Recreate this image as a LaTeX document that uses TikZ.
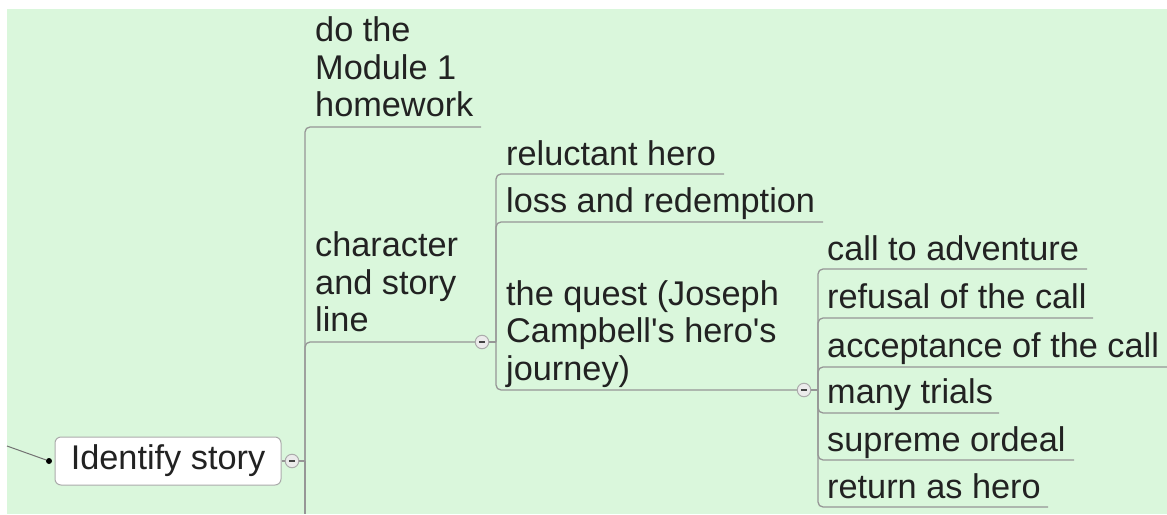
\documentclass[tikz,border=0pt]{standalone}
\usepackage{fontspec}
\setmainfont{Liberation Sans}
\definecolor{bg}{RGB}{218,247,220}
\definecolor{ln}{RGB}{150,150,150}
\definecolor{txt}{RGB}{34,34,34}
\begin{document}
\begin{tikzpicture}[x=1pt,y=-1pt,
  lbl/.style={inner sep=0pt, anchor=base west, align=left, text=txt,
    font=\fontsize{34.3}{37.5}\selectfont},
  conn/.style={draw=ln, line width=1.3pt, rounded corners=5pt},
  toggle/.style={circle, draw=ln!80, fill=white!92!black, line width=1pt,
    minimum size=13.5pt, inner sep=0pt,
    path picture={\draw[txt!85, line width=1.4pt]
      ([xshift=-3.2pt]path picture bounding box.center) --
      ([xshift=3.2pt]path picture bounding box.center);}},
  ]
\useasboundingbox (0,0) rectangle (1167,514);
\fill[white] (0,0) rectangle (1167,514);
\fill[bg] (7,9) rectangle (1167,514);

% root
\node[draw=ln!80, fill=white, rounded corners=6pt, line width=1pt,
  minimum width=226pt, minimum height=48pt, inner sep=0pt, text=txt,
  font=\fontsize{34.3}{37.5}\selectfont] (root) at (168,461) {Identify story};
\node[circle, fill=black, inner sep=0pt, minimum size=6pt] (dot) at (49,461) {};
\coordinate (pin) at (7,446);
\draw[line width=1pt, draw=black!55] (pin) -- (dot);
\node[toggle] (c1) at (292,461) {};
\coordinate (t1) at (305,461);
\coordinate (bot1) at (305,514);

% level 1 (base = last line)
\node[lbl] (do) at (315,116.7) {do the\\Module 1\\homework};
\node[lbl] (char) at (315,331.7) {character\\and story\\line};
\coordinate (u-do) at (481,127);
\node[toggle] (c2) at (482,342) {};
\coordinate (t2) at (496,342);

% level 2
\node[lbl] (rel) at (506,165) {reluctant hero};
\node[lbl] (loss) at (506,212.3) {loss and redemption};
\node[lbl] (quest) at (506,380) {the quest (Joseph\\Campbell\textquotesingle s hero\textquotesingle s\\journey)};
\coordinate (u-rel) at (724,174);
\coordinate (u-loss) at (823,222);
\node[toggle] (c3) at (804,390) {};
\coordinate (t3) at (818,390);

% level 3
\node[lbl] (call) at (827,260) {call to adventure};
\node[lbl] (ref) at (827,308) {refusal of the call};
\node[lbl] (acc) at (827,357) {acceptance of the call};
\node[lbl] (many) at (827,403) {many trials};
\node[lbl] (sup) at (827,451) {supreme ordeal};
\node[lbl] (ret) at (827,498) {return as hero};
\coordinate (u-call) at (1087,269);
\coordinate (u-ref) at (1093,318);
\coordinate (u-acc) at (1167,367);
\coordinate (u-many) at (999,413);
\coordinate (u-sup) at (1074,460);
\coordinate (u-ret) at (1048,507);

% connectors
\draw[conn] (root.east) -- (c1.west);
\draw[conn] (c1.east) -- (t1);
\draw[conn] (t1) -- (bot1);
\draw[conn] (t1) |- (u-do);
\draw[conn] (t1) |- (c2.west);

\draw[conn] (c2.east) -- (t2);
\draw[conn] (t2) |- (u-rel);
\draw[conn] (t2) |- (u-loss);
\draw[conn] (t2) |- (c3.west);

\draw[conn] (c3.east) -- (t3);
\draw[conn] (t3) |- (u-call);
\draw[conn] (t3) |- (u-ref);
\draw[conn] (t3) |- (u-acc);
\draw[conn] (t3) |- (u-many);
\draw[conn] (t3) |- (u-sup);
\draw[conn] (t3) |- (u-ret);
\end{tikzpicture}
\end{document}
